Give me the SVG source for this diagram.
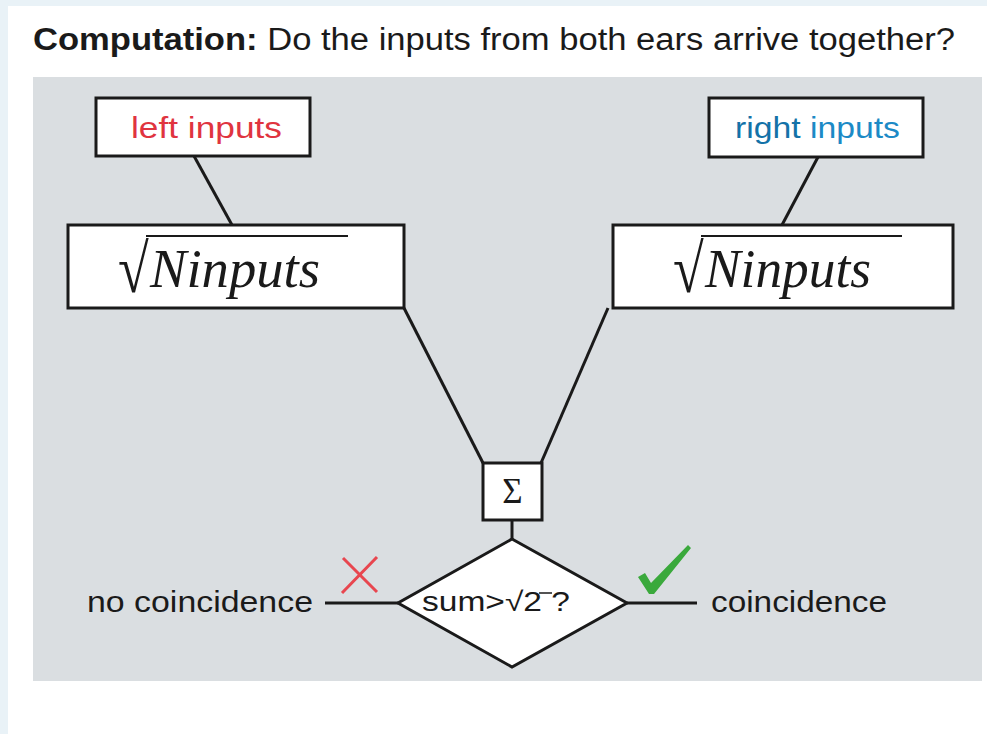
<svg xmlns="http://www.w3.org/2000/svg" width="987" height="734" viewBox="0 0 987 734">
<style>
.box{fill:#ffffff;stroke:#1a1a1a;stroke-width:3}
.con{fill:none;stroke:#1a1a1a;stroke-width:3}
.sans{font-family:"Liberation Sans",Arial,sans-serif;fill:#1a1a1a}
.math{font-family:"Liberation Serif","Times New Roman",serif;fill:#1a1a1a}
</style>
<rect x="0" y="0" width="987" height="734" fill="#e9f2f7"/>
<rect x="8" y="6" width="979" height="728" fill="#ffffff"/>
<rect x="33" y="77" width="949" height="604" fill="#dadee1"/>
<text class="sans" x="33" y="50" font-size="31" textLength="922" lengthAdjust="spacingAndGlyphs"><tspan font-weight="bold">Computation:</tspan> Do the inputs from both ears arrive together?</text>
<g id="connectors">
<line class="con" x1="194" y1="156" x2="232" y2="225"/>
<line class="con" x1="818" y1="157" x2="782" y2="225"/>
<line class="con" x1="404" y1="308" x2="483" y2="463"/>
<line class="con" x1="608" y1="308" x2="541" y2="463"/>
<line class="con" x1="512" y1="520" x2="512" y2="539"/>
<line class="con" x1="325" y1="603" x2="398" y2="603"/>
<line class="con" x1="627" y1="603" x2="697" y2="603"/>
</g>
<g id="left-inputs">
<rect class="box" x="96" y="98" width="214" height="58"/>
<text class="sans" x="131" y="138" font-size="29" style="fill:#e0343f" textLength="151" lengthAdjust="spacingAndGlyphs">left inputs</text>
</g>
<g id="right-inputs">
<rect class="box" x="709" y="98" width="214" height="59"/>
<text class="sans" x="735" y="138" font-size="29" style="fill:#1c8ac6" textLength="165" lengthAdjust="spacingAndGlyphs"><tspan style="fill:#1472a8">right</tspan> inputs</text>
</g>
<g id="left-sqrt">
<rect class="box" x="68" y="225" width="336" height="83"/>
<text class="math" font-size="56" transform="translate(118,292) scale(1,1.22)">√</text>
<line x1="146" y1="236" x2="348" y2="236" stroke="#1a1a1a" stroke-width="2"/>
<text class="math" x="150" y="287" font-size="54" font-style="italic" textLength="170" lengthAdjust="spacingAndGlyphs">Ninputs</text>
</g>
<g id="right-sqrt">
<rect class="box" x="613" y="225" width="340" height="83"/>
<text class="math" font-size="56" transform="translate(673,292) scale(1,1.22)">√</text>
<line x1="701" y1="236" x2="902" y2="236" stroke="#1a1a1a" stroke-width="2"/>
<text class="math" x="705" y="287" font-size="54" font-style="italic" textLength="166" lengthAdjust="spacingAndGlyphs">Ninputs</text>
</g>
<g id="sum">
<rect class="box" x="483" y="463" width="59" height="57"/>
<text class="math" x="512.5" y="503" font-size="35" text-anchor="middle">Σ</text>
</g>
<g id="decision">
<polygon class="box" points="512,539 627,603 512,667 398,603"/>
<text class="sans" x="422" y="611" font-size="27" textLength="148" lengthAdjust="spacingAndGlyphs">sum&gt;√2 ?</text>
<line x1="539" y1="593" x2="552" y2="593" stroke="#1a1a1a" stroke-width="1.5"/>
</g>
<g id="no-coincidence">
<text class="sans" x="87" y="612" font-size="30" textLength="226" lengthAdjust="spacingAndGlyphs">no coincidence</text>
<path d="M343,558 L377,592 M377,557 L342,593" fill="none" stroke="#e8464f" stroke-width="3"/>
</g>
<g id="coincidence">
<text class="sans" x="711" y="612" font-size="30" textLength="176" lengthAdjust="spacingAndGlyphs">coincidence</text>
<polygon points="638,577 645,573 651,583 688,545 691,548 654,594 649,594" fill="#3aa93c"/>
</g>
</svg>
